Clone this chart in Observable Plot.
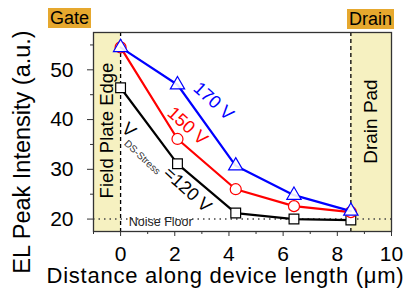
<!DOCTYPE html>
<html><head><meta charset="utf-8">
<script src="https://cdn.jsdelivr.net/npm/d3@7"></script>
<script src="https://cdn.jsdelivr.net/npm/@observablehq/plot@0.6"></script>
<style>
body{margin:0;background:#fff;}
#wrap{position:relative;width:408px;height:289px;font-family:"Liberation Sans",Arial,sans-serif;}
.tag{position:absolute;background:#e6a82e;color:#000;font-size:18px;line-height:20px;height:20px;padding:0 2px;}
</style>
</head><body>
<div id="wrap"></div>
<script>
const distance = [0, 2.1, 4.25, 6.4, 8.5];
const v120 = [46.4, 31.1, 21.2, 20.0, 19.8];
const v150 = [54.5, 36.1, 26.0, 22.6, 21.4];
const v170 = [54.5, 47.0, 30.7, 24.8, 21.6];
const seriesNames = ["120 V", "150 V", "170 V"];
const xTicks = [0, 2, 4, 6, 8, 10];
const xMinor = [-1, 1, 3, 5, 7, 9];
const yTicks = [20, 30, 40, 50];
const yMinor = [25, 35, 45, 55];
const regions = [{x1: -1, x2: 0}, {x1: 8.5, x2: 10}];
const markers = [0, 8.5];
const noiseFloor = 20;

const rows = (vals) => distance.map((d, i) => ({d, v: vals[i]}));
const s120 = rows(v120), s150 = rows(v150), s170 = rows(v170);

const lineW = 2.2;
const chart = Plot.plot({
  width: 408, height: 289,
  marginLeft: 93, marginRight: 17, marginTop: 32, marginBottom: 58,
  x: {domain: [-1, 10]},
  y: {domain: [17.5, 57.5]},
  style: {fontFamily: "'Liberation Sans', Arial, sans-serif", fontSize: "20px", background: "transparent", overflow: "visible"},
  marks: [
    Plot.rect(regions, {x1: "x1", x2: "x2", fill: "#f6f1c1"}),
    Plot.ruleY([noiseFloor], {stroke: "#444", strokeWidth: 1.4, strokeDasharray: "1.5,4"}),
    Plot.ruleX(markers, {stroke: "#000", strokeWidth: 1.3, strokeDasharray: "4,3"}),
    Plot.line(s120, {x: "d", y: "v", stroke: "#000", strokeWidth: lineW}),
    Plot.dot(s120, {x: "d", y: "v", symbol: "square", r: 5.5, stroke: "#000", fill: "#fff", strokeWidth: 1.2}),
    Plot.line(s150, {x: "d", y: "v", stroke: "#ff0000", strokeWidth: lineW}),
    Plot.dot(s150, {x: "d", y: "v", symbol: "circle", r: 5.5, stroke: "#ff0000", fill: "#fff", strokeWidth: 1.2}),
    Plot.line(s170, {x: "d", y: "v", stroke: "#0000ff", strokeWidth: lineW}),
    Plot.dot(s170, {x: "d", y: "v", symbol: "triangle", r: 5.3, stroke: "#0000ff", fill: "#fff", fillOpacity: 0.9, strokeWidth: 1.2}),
    Plot.text([seriesNames[2]], {x: 3.43, y: 43.7, text: d => d, rotate: 42, fill: "#0000ff", fontSize: 18}),
    Plot.text([seriesNames[1]], {x: 2.47, y: 38.7, text: d => d, rotate: 42, fill: "#ff0000", fontSize: 18}),
    Plot.text(["=" + seriesNames[0]], {x: 2.47, y: 25.9, text: d => d, rotate: 42, fill: "#000", fontSize: 18}),
    Plot.text(["V"], {x: 0.3, y: 37.9, text: d => d, rotate: 42, fill: "#000", fontSize: 18}),
    Plot.text(["DS-Stress"], {x: 0.8, y: 32.4, text: d => d, rotate: 43, fill: "#333", fontSize: 10}),
    Plot.text(["Noise Floor"], {x: 0.3, y: 19.5, text: d => d, textAnchor: "start", fill: "#222", fontSize: 12.5}),
    Plot.text(["Field Plate Edge"], {x: -0.5, y: 37.8, text: d => d, rotate: -90, fill: "#000", fontSize: 18.5}),
    Plot.text(["Drain Pad"], {x: 9.25, y: 39.6, text: d => d, rotate: -90, fill: "#000", fontSize: 19}),
    Plot.axisX({ticks: xTicks, tickSize: 5, tickPadding: 10, label: null, fontSize: 21, stroke: "#333"}),
    Plot.axisX({ticks: xMinor, tickSize: 3, text: null, label: null, stroke: "#333"}),
    Plot.axisY({ticks: yTicks, tickSize: 6, tickPadding: 14, label: null, fontSize: 21, stroke: "#333"}),
    Plot.axisY({ticks: yMinor, tickSize: 3, text: null, label: null, stroke: "#333"}),
    Plot.text(["Distance along device length (\u03bcm)"], {frameAnchor: "bottom", lineAnchor: "middle", dx: -17, dy: 44, text: d => d, fontSize: 22, fill: "#000", className: "xtitle"}),
    Plot.text(["EL Peak Intensity (a.u.)"], {frameAnchor: "left", textAnchor: "middle", lineAnchor: "middle", dx: -71, dy: 20, rotate: -90, text: d => d, fontSize: 23.5, fill: "#000"}),
    Plot.frame({stroke: "#333", strokeWidth: 1.3})
  ]
});
const wrap = document.getElementById("wrap");
wrap.appendChild(chart);
d3.select(chart).selectAll(".xtitle text").style("letter-spacing", "0.75px");
const gate = document.createElement("div");
gate.className = "tag"; gate.textContent = "Gate";
gate.style.left = "48px"; gate.style.top = "8px";
wrap.appendChild(gate);
const drain = document.createElement("div");
drain.className = "tag"; drain.textContent = "Drain";
drain.style.left = "347px"; drain.style.top = "9px";
wrap.appendChild(drain);
</script>
</body></html>
